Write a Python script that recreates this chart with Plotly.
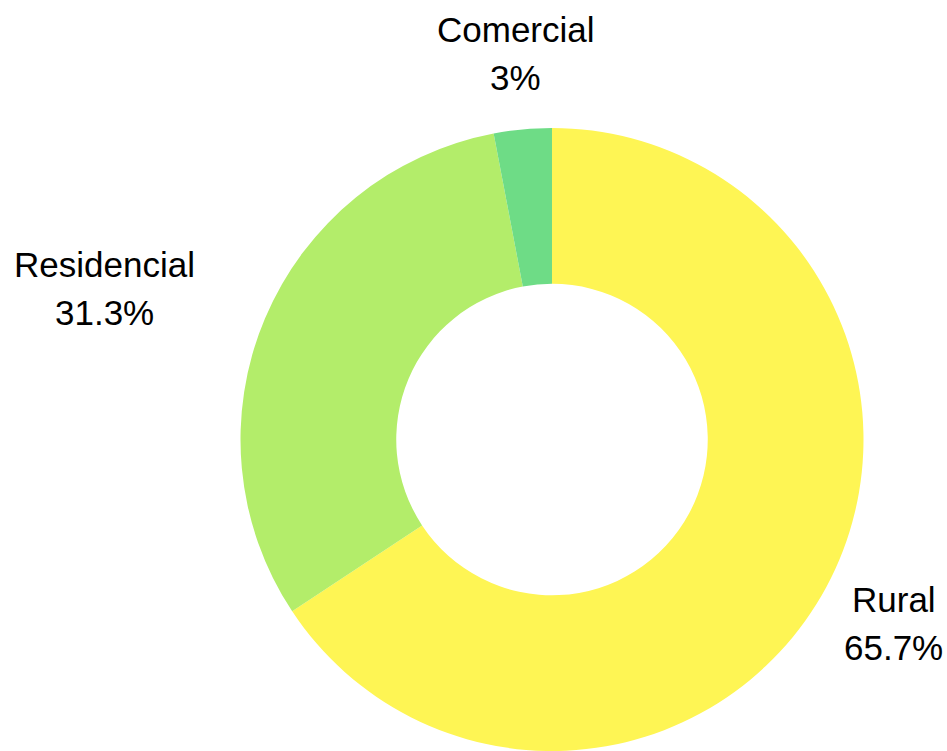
import math
import plotly.graph_objects as go

# Share of consumption by sector (%)
categories = ["Rural", "Residencial", "Comercial"]
shares = [65.7, 31.3, 3.0]
colors = ["#FEF554", "#B3ED6A", "#6EDC86"]

W, H = 947, 751
# Pie placement (pixels): centre and outer radius
cx, cy, r = 552.0, 439.5, 311.5
label_r = r * 1.245
line_gap = 24  # half the distance between the two label lines, px

fig = go.Figure(go.Pie(
    labels=categories,
    values=shares,
    hole=0.5,
    sort=False,
    direction="clockwise",
    rotation=0,
    textinfo="none",
    marker=dict(colors=colors, line=dict(width=0)),
    domain=dict(x=[(cx - r) / W, (cx + r) / W], y=[1 - (cy + r) / H, 1 - (cy - r) / H]),
    showlegend=False,
))


def fmt_pct(v):
    s = f"{v:.1f}"
    return (s[:-2] if s.endswith(".0") else s) + "%"


label_font = dict(family="Liberation Sans, Arial, sans-serif", size=35, color="#000000")

# Outside labels placed along each slice's mid-angle
total = sum(shares)
cum = 0.0
annotations = []
for name, v in zip(categories, shares):
    mid = (cum + v / 2) / total * 2 * math.pi
    cum += v
    px = cx + label_r * math.sin(mid)
    py = cy - label_r * math.cos(mid)
    if math.sin(mid) < -0.5:
        # left-side label: right-aligned block, lines centred on each other
        block_w = 181
        x_c = px - block_w / 2
    else:
        x_c = px
    for text, dy in ((name, -line_gap), (fmt_pct(v), line_gap)):
        annotations.append(dict(
            x=x_c / W, y=1 - (py + dy) / H, xref="paper", yref="paper",
            text=text, showarrow=False,
            xanchor="center", yanchor="middle", align="center",
            font=label_font,
        ))

fig.update_layout(
    width=W, height=H,
    margin=dict(l=0, r=0, t=0, b=0),
    paper_bgcolor="#ffffff", plot_bgcolor="#ffffff",
    annotations=annotations,
)

fig.write_html("out.html")
